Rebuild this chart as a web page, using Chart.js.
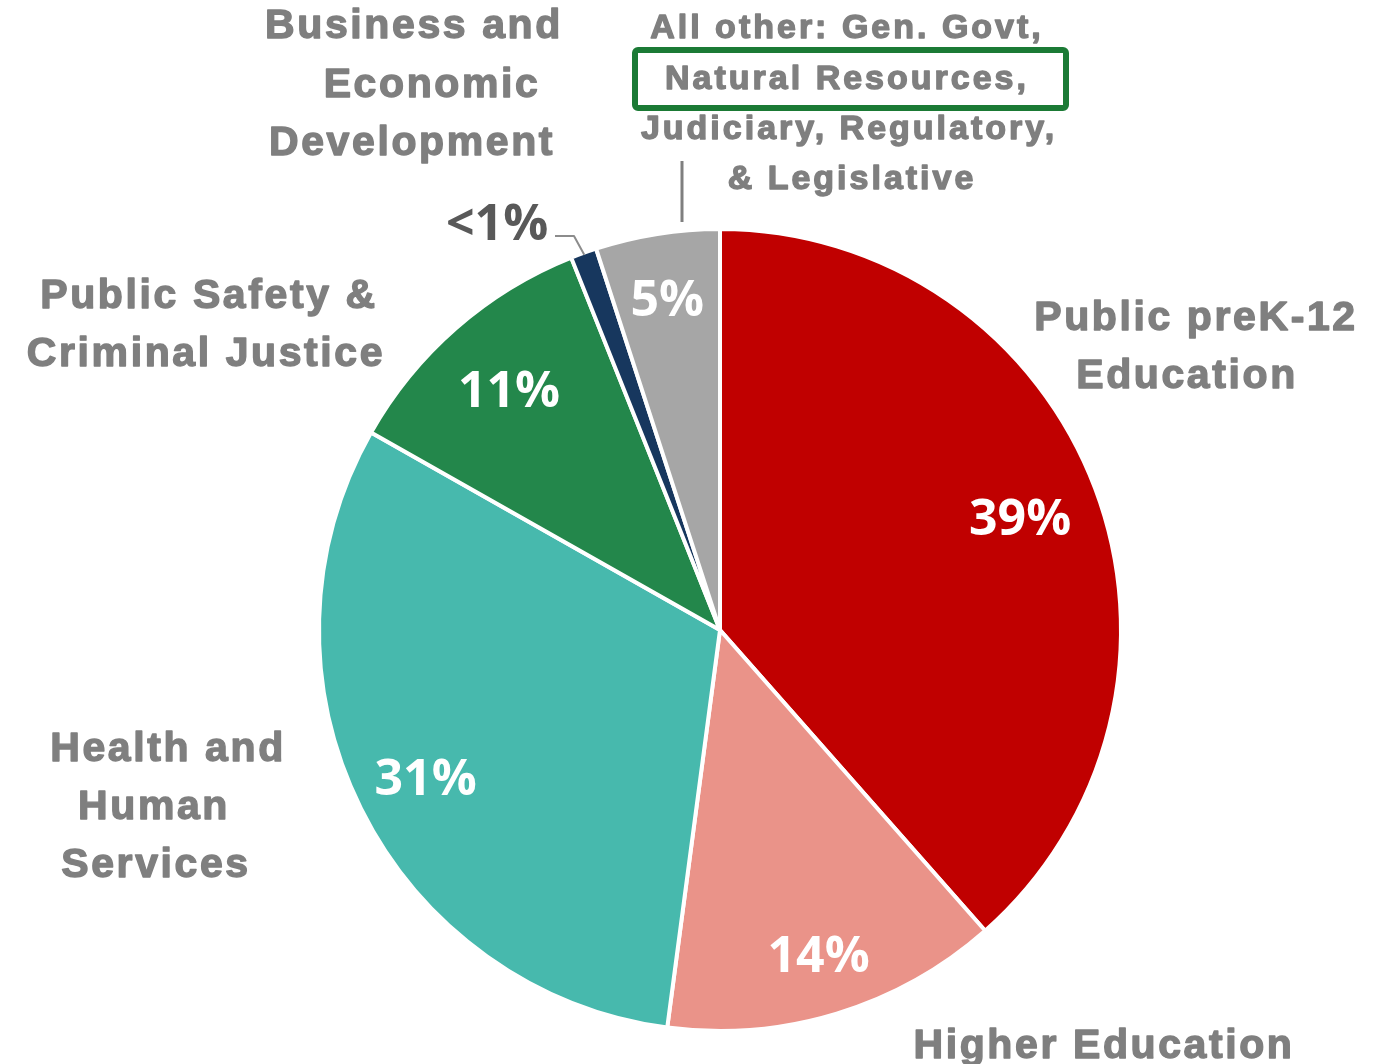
<!DOCTYPE html>
<html>
<head>
<meta charset="utf-8">
<script src="https://cdn.jsdelivr.net/npm/chart.js@4.4.1/dist/chart.umd.min.js"></script>
<style>
  html, body { margin: 0; padding: 0; background: #fff; }
  #pie { display: block; }
</style>
</head>
<body>
<canvas id="pie" width="1394" height="1064"></canvas>
<script>
// slices, clockwise from 12 o'clock
const categories = ["Public preK-12 Education", "Higher Education", "Health and Human Services",
  "Public Safety & Criminal Justice", "Business and Economic Development", "All other"];
const shares = [38.5, 13.6, 31.1, 10.75, 1.05, 5.0];
const pctLabels = ["39%", "14%", "31%", "11%", "", "5%"];
const sliceColors = ["#C00000", "#EA9389", "#47B9AD", "#23874B", "#17375E", "#A6A6A6"];

// how far out (fraction of radius) each % label sits
const pctRadius = [0.80, 0.845, 0.82, 0.80, 0, 0.84];

const grey = "#7F7F7F";
const bigFont = "bold 41px 'Liberation Sans', Arial, sans-serif";
const smallFont = "bold 34px 'Liberation Sans', Arial, sans-serif";

// category text: [text, centre x, baseline y, font]
const catText = [
  ["Business and", 414, 38, bigFont],
  ["Economic", 432, 97, bigFont],
  ["Development", 412, 155, bigFont],
  ["Public Safety &", 209, 308, bigFont],
  ["Criminal Justice", 206, 366, bigFont],
  ["Public preK-12", 1196, 330, bigFont],
  ["Education", 1187, 388, bigFont],
  ["Health and", 168, 761, bigFont],
  ["Human", 154, 819, bigFont],
  ["Services", 156, 877, bigFont],
  ["Higher Education", 1104, 1058, bigFont],
  ["All other: Gen. Govt,", 847, 38, smallFont],
  ["Natural Resources,", 847, 89, smallFont],
  ["Judiciary, Regulatory,", 849, 139, smallFont],
  ["& Legislative", 852, 189, smallFont]
];

const labelPlugin = {
  id: "labels",
  afterDatasetsDraw(chart) {
    const ctx = chart.ctx;
    const arcs = chart.getDatasetMeta(0).data;
    ctx.save();

    // percentages inside the slices
    ctx.font = "bold 50px 'Open Sans', sans-serif";
    ctx.fillStyle = "#fff";
    ctx.textAlign = "center";
    ctx.textBaseline = "middle";
    arcs.forEach((arc, i) => {
      if (!pctLabels[i]) return;
      const mid = (arc.startAngle + arc.endAngle) / 2;
      const r = arc.outerRadius * pctRadius[i];
      ctx.fillText(pctLabels[i], arc.x + Math.cos(mid) * r, arc.y + Math.sin(mid) * r + 4);
    });

    // category names (stroked a little to get the heavy look)
    ctx.fillStyle = grey;
    ctx.strokeStyle = grey;
    ctx.lineWidth = 1.4;
    ctx.lineJoin = "round";
    ctx.textBaseline = "alphabetic";
    catText.forEach(t => {
      ctx.font = t[3];
      ctx.letterSpacing = t[3] === bigFont ? "2.6px" : "3px";
      ctx.fillText(t[0], t[1], t[2]);
      ctx.strokeText(t[0], t[1], t[2]);
    });
    ctx.letterSpacing = "0px";

    // "<1%" with leader line to the thin slice
    const tiny = arcs[4];
    const tm = (tiny.startAngle + tiny.endAngle) / 2;
    const ex = tiny.x + Math.cos(tm) * (tiny.outerRadius - 2);
    const ey = tiny.y + Math.sin(tm) * (tiny.outerRadius - 2);
    ctx.font = "bold 50px 'Open Sans', sans-serif";
    ctx.fillStyle = "#595959";
    ctx.textAlign = "left";
    ctx.fillText("<1%", 446, 240);
    ctx.strokeStyle = "#8C8C8C";
    ctx.lineWidth = 2;
    ctx.beginPath();
    ctx.moveTo(555, 236);
    ctx.lineTo(574, 236);
    ctx.lineTo(ex, ey);
    ctx.stroke();

    // leader for "All other"
    ctx.strokeStyle = grey;
    ctx.lineWidth = 3;
    ctx.beginPath();
    ctx.moveTo(682, 161);
    ctx.lineTo(682, 222);
    ctx.stroke();

    // green highlight box
    ctx.strokeStyle = "#1B7A35";
    ctx.lineWidth = 6;
    ctx.beginPath();
    ctx.roundRect(635, 50, 431, 58, 3);
    ctx.stroke();

    ctx.restore();
  }
};

new Chart(document.getElementById("pie"), {
  type: "pie",
  data: {
    labels: categories,
    datasets: [{
      data: shares,
      backgroundColor: sliceColors,
      borderColor: "#fff",
      borderWidth: 4
    }]
  },
  options: {
    responsive: false,
    animation: false,
    layout: { padding: { left: 317, right: 271, top: 227, bottom: 31 } },
    plugins: {
      legend: { display: false },
      tooltip: { enabled: false }
    }
  },
  plugins: [labelPlugin]
});
</script>
</body>
</html>
